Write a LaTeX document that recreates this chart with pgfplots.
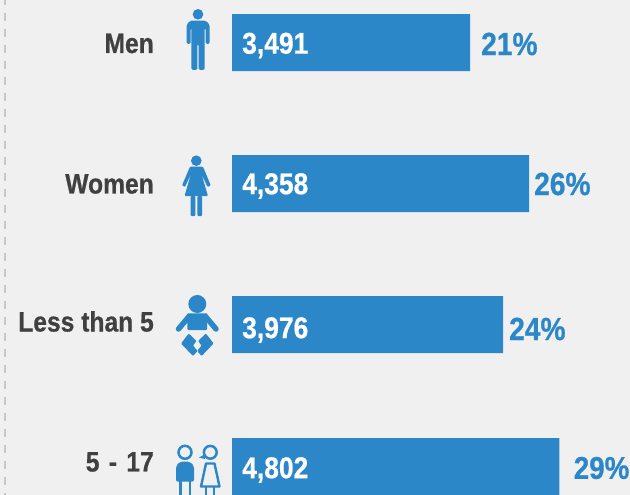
\documentclass[border=0pt]{standalone}
\usepackage{fontspec}
\usepackage{pgfplots}
\pgfplotsset{compat=1.18}
\setmainfont[BoldFont={Liberation Sans Bold},BoldFeatures={FakeStretch=0.88,FakeBold=0.6}]{Liberation Sans}
\definecolor{bluebar}{HTML}{2B87C8}
\definecolor{bgc}{HTML}{F0F0F0}
\definecolor{txt}{HTML}{404040}
\begin{document}
\begin{tikzpicture}[x=1pt,y=1pt]
\useasboundingbox (0,0) rectangle (630,-495);
\begin{axis}[
  at={(0,0)},anchor=north west,
  scale only axis,width=630pt,height=495pt,
  xmin=-3402,xmax=5836,ymin=0,ymax=495,y dir=reverse,
  axis lines=none,axis background/.style={fill=bgc},
  clip mode=individual,
  xbar,bar width=57pt,
]
\addplot[draw=none,fill=bluebar] coordinates {(3491,42.5) (4358,183.5) (3976,324.5) (4802,466.5)};
\foreach \y/\l in {45.5/{3,491},186/{4,358},330/{3,976},470/{4,802}}{
  \edef\tmp{\noexpand\node[anchor=west,text=white,font=\noexpand\fontsize{30}{30}\noexpand\selectfont\noexpand\bfseries,inner sep=0pt] at (axis cs:147,\y) {\l};}\tmp
}
\end{axis}
\begin{scope}[x=1pt,y=-1pt]
\draw[color=black!22,line width=2pt,dash pattern=on 8pt off 8pt,dash phase=3pt] (4.5,0)--(4.5,495);
\foreach \t/\y in {Men/43.5,Women/184,Less than 5/321.5,{5\kern2.5pt{} -\kern2.5pt{} 17}/462}{
  \node[anchor=east,text=txt,font=\fontsize{28}{28}\selectfont\bfseries,inner sep=0pt] at (154,\y) {\t};}
\foreach \t/\x/\y in {21\%/481/44,26\%/534/184,24\%/509/329}{
  \node[anchor=west,text=bluebar,font=\fontsize{32}{32}\selectfont\bfseries,inner sep=0pt] at (\x,\y) {\t};}
\node[anchor=east,text=bluebar,font=\fontsize{31.5}{31.5}\selectfont\bfseries,inner sep=0pt] at (629.5,468) {29\%};
% man
\fill[bluebar] (198,14.3) circle (5.3);
\fill[bluebar,rounded corners=1.5pt] (186.5,44) -- (186.5,25) -- (190,20.7) -- (206,20.7) -- (209.7,25) -- (209.7,44) -- (205.5,44) -- (205.5,28) -- (204.7,28) -- (204.7,70) -- (198.6,70) -- (198.6,44) -- (197.4,44) -- (197.4,70) -- (191.4,70) -- (191.4,28) -- (190.7,28) -- (190.7,44) -- cycle;
% woman
\fill[bluebar] (196.3,160.7) circle (5.3);
\fill[bluebar,rounded corners=1pt] (190,166.7) -- (203,166.7) -- (210.8,185.5) -- (207.5,187) -- (201.5,174) -- (208,196) -- (184.5,196) -- (191,174) -- (185,187) -- (182,185.5) -- cycle;
\fill[bluebar,rounded corners=1pt] (190.7,196) rectangle (195.4,216);
\fill[bluebar,rounded corners=1pt] (197.3,196) rectangle (202,216);
% baby
\fill[bluebar] (197.3,304) circle (9);
\fill[bluebar,rounded corners=1pt] (187,313.3) -- (207.5,313.3) -- (207,330) -- (187.5,330) -- cycle;
\draw[bluebar,line width=5.5pt,line cap=round] (189,316.5) -- (178.5,329);
\draw[bluebar,line width=5.5pt,line cap=round] (205.5,316.5) -- (216,329);
\fill[bluebar,rounded corners=1pt] (188.7,333.5) -- (196.5,341) -- (193,345.5) -- (197.5,351) -- (193,356) -- (181,343.5) -- cycle;
\fill[bluebar,rounded corners=1pt] (205.9,333.5) -- (198.1,341) -- (201.6,345.5) -- (197.1,351) -- (201.6,356) -- (213.6,343.5) -- cycle;
% kids
\draw[bluebar,line width=2.5pt] (185,452.3) circle (6.5);
\fill[bluebar,rounded corners=2pt] (176,481.7) -- (176,466) -- (180,461.7) -- (190,461.7) -- (194,466) -- (194,481.7) -- cycle;
\draw[bluebar,line width=2.7pt] (180.3,481) -- (180.3,495) (190,481) -- (190,495);
\draw[bluebar,line width=2.5pt] (210.3,452.3) circle (6.4);
\fill[bluebar] (199,457.5) -- (204.5,454.5) -- (205,459) -- cycle;
\draw[bluebar,line width=2.4pt,line join=round] (206,463.5) -- (201,486.5) -- (219.5,486.5) -- (214.5,463.5) -- cycle;
\draw[bluebar,line width=2.7pt] (206,486) -- (206,495) (214,486) -- (214,495);
\end{scope}
\end{tikzpicture}
\end{document}
